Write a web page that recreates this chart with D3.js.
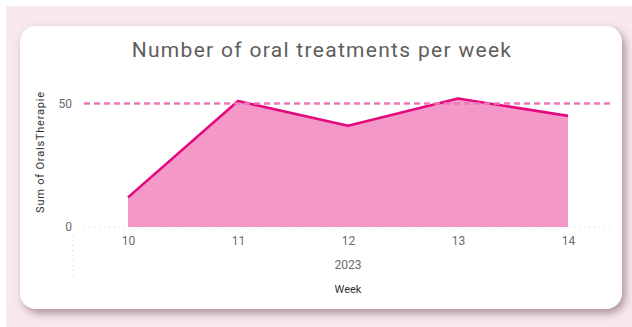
<!DOCTYPE html>
<html>
<head>
<meta charset="utf-8">
<script src="https://cdn.jsdelivr.net/npm/d3@7"></script>
<style>
  html, body { margin: 0; padding: 0; background: #fff; }
  svg { display: block; }
  text { font-family: Roboto, "Noto Sans", sans-serif; }
</style>
</head>
<body>
<svg id="chart"></svg>
<script>
// chart values
const weeks = ["10", "11", "12", "13", "14"];
const oralTherapies = [12, 51, 41, 52, 45];
const yearLabel = "2023";
const yTicks = [0, 50];
const targetValue = 50;

const width = 632, height = 327;

const svg = d3.select("#chart").attr("width", width).attr("height", height);

const defs = svg.append("defs");
const shadow = defs.append("filter").attr("id", "cardShadow")
  .attr("x", "-10%").attr("y", "-10%").attr("width", "120%").attr("height", "125%");
shadow.append("feDropShadow")
  .attr("dx", 3).attr("dy", 4)
  .attr("stdDeviation", 4)
  .attr("flood-color", "#6f5060")
  .attr("flood-opacity", 0.6);

// page background
svg.append("rect")
  .attr("x", 6).attr("y", 6)
  .attr("width", width - 6).attr("height", height - 6)
  .attr("fill", "#f8e9ef");

// card
svg.append("rect")
  .attr("x", 20).attr("y", 26)
  .attr("width", 602).attr("height", 283)
  .attr("rx", 16)
  .attr("fill", "#fff")
  .attr("filter", "url(#cardShadow)");

// title
svg.append("text")
  .attr("x", 322).attr("y", 57)
  .attr("text-anchor", "middle")
  .attr("font-size", 21)
  .attr("letter-spacing", 1.3)
  .attr("fill", "#5f5d5c")
  .text("Number of oral treatments per week");

// scales
const x = d3.scalePoint().domain(weeks).range([73, 623]).padding(0.5);
const y = d3.scaleLinear().domain([0, 50]).range([227, 103.5]);

const data = weeks.map((w, i) => ({ week: w, value: oralTherapies[i] }));

// zero gridline (dotted)
svg.append("line")
  .attr("x1", 84).attr("x2", 611)
  .attr("y1", y(0)).attr("y2", y(0))
  .attr("stroke", "#cfcfcf")
  .attr("stroke-width", 1)
  .attr("stroke-dasharray", "1,4");

// area + line
svg.append("path")
  .datum(data)
  .attr("fill", "#f499c7")
  .attr("d", d3.area()
    .x(d => x(d.week))
    .y0(y(0))
    .y1(d => y(d.value)));

svg.append("path")
  .datum(data)
  .attr("fill", "none")
  .attr("stroke", "#e5097f")
  .attr("stroke-width", 2.6)
  .attr("stroke-linejoin", "round")
  .attr("d", d3.line()
    .x(d => x(d.week))
    .y(d => y(d.value)));

// constant line at 50
svg.append("line")
  .attr("x1", 84).attr("x2", 612)
  .attr("y1", y(targetValue)).attr("y2", y(targetValue))
  .attr("stroke", "#ee78b4")
  .attr("stroke-width", 2.4)
  .attr("stroke-dasharray", "6,4");

// y axis
const yAxis = svg.append("g")
  .attr("transform", "translate(72,0)")
  .call(d3.axisLeft(y).tickValues(yTicks).tickSize(0).tickPadding(0));
yAxis.select(".domain").remove();
yAxis.selectAll("text")
  .attr("font-size", 12)
  .attr("fill", "#6b6a72")
  .attr("font-family", "Roboto, sans-serif");

// x axis
const xAxis = svg.append("g")
  .attr("transform", `translate(0,${y(0)})`)
  .call(d3.axisBottom(x).tickSize(0).tickPadding(9));
xAxis.select(".domain").remove();
xAxis.selectAll("text")
  .attr("font-size", 12)
  .attr("fill", "#6b6a72")
  .attr("font-family", "Roboto, sans-serif");

// hierarchy separator
svg.append("line")
  .attr("x1", 73).attr("x2", 73)
  .attr("y1", 235).attr("y2", 276)
  .attr("stroke", "#cfcfcf")
  .attr("stroke-dasharray", "1,4");

svg.append("text")
  .attr("x", (x(weeks[0]) + x(weeks[weeks.length - 1])) / 2)
  .attr("y", 269)
  .attr("text-anchor", "middle")
  .attr("font-size", 12)
  .attr("fill", "#6b6a72")
  .text(yearLabel);

// axis titles
svg.append("text")
  .attr("x", 348).attr("y", 293)
  .attr("text-anchor", "middle")
  .attr("font-size", 11)
  .attr("fill", "#333")
  .text("Week");

svg.append("text")
  .attr("transform", "translate(44,152) rotate(-90)")
  .attr("text-anchor", "middle")
  .attr("font-size", 11)
  .attr("letter-spacing", 0.8)
  .attr("fill", "#333")
  .text("Sum of OralsTherapie");
</script>
</body>
</html>
